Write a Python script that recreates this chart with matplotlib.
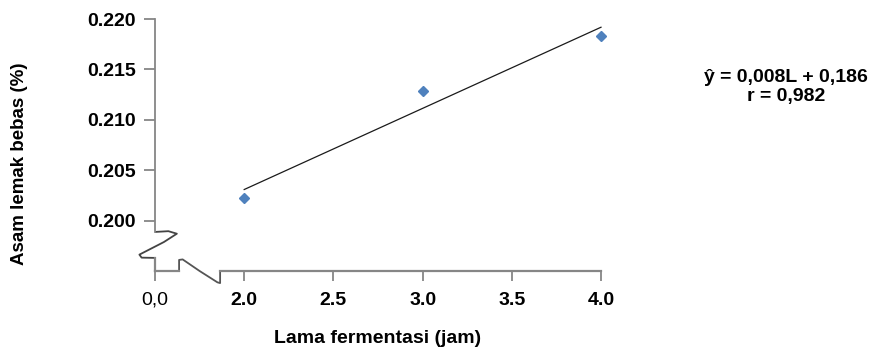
import matplotlib
matplotlib.use("Agg")
import matplotlib.pyplot as plt
import numpy as np

# data
lama = [2.0, 3.0, 4.0]
asam = [0.2022, 0.2129, 0.2183]
x_ticks = [1.5, 2.0, 2.5, 3.0, 3.5, 4.0]
x_ticklabels = ["0,0", "2.0", "2.5", "3.0", "3.5", "4.0"]
y_ticks = [0.200, 0.205, 0.210, 0.215, 0.220]
y_ticklabels = ["0.200", "0.205", "0.210", "0.215", "0.220"]
eq_text = "ŷ = 0,008L + 0,186\nr = 0,982"

FONT = ["Liberation Sans Narrow", "Liberation Sans", "DejaVu Sans"]
plt.rcParams['font.family'] = FONT
GREY = "#868686"

fig = plt.figure(figsize=(8.85, 3.51), dpi=100)
W, H = 885, 351
ax = fig.add_axes([155 / W, 1 - 271 / H, 446 / W, 252 / H])

ax.set_xlim(1.5, 4.0)
ax.set_ylim(0.195, 0.220)

# data points
ax.plot(lama, asam, linestyle="none", marker="D", markersize=5.5,
        color="#4F81BD", zorder=3, clip_on=False)

# linear trend line
coef = np.polyfit(lama, asam, 1)
xs = np.array([min(lama), max(lama)])
ax.plot(xs, np.polyval(coef, xs), color="#1a1a1a", linewidth=0.9, zorder=2,
        clip_on=False)

# spines
for s in ax.spines.values():
    s.set_visible(False)

# broken axes drawn manually (axes-fraction coordinates)
yax_break = [(0, 0.155), (0.03, 0.158), (0.049, 0.148), (0.02, 0.115),
             (-0.035, 0.065), (-0.03, 0.053), (0, 0.052)]
xax_break = [(0.054, 0), (0.054, 0.044), (0.062, 0.046),
             (0.10, 0.0), (0.14, -0.045), (0.146, -0.048), (0.146, 0)]
for pts, c in [(yax_break, "#444444"), (xax_break, "#555555")]:
    px, py = zip(*pts)
    ax.plot(px, py, transform=ax.transAxes, color=c, linewidth=1.3,
            clip_on=False, solid_capstyle="butt", zorder=1)
# straight axis parts
ax.plot([0.146, 1], [0, 0], transform=ax.transAxes, color=GREY, linewidth=1.6,
        clip_on=False, zorder=1)
ax.plot([0, 0.054], [0, 0], transform=ax.transAxes, color=GREY, linewidth=1.6,
        clip_on=False, zorder=1)
ax.plot([0, 0], [0, 0.052], transform=ax.transAxes, color=GREY, linewidth=1.6,
        clip_on=False, zorder=1)
ax.plot([0, 0], [0.155, 1], transform=ax.transAxes, color=GREY, linewidth=1.3,
        clip_on=False, zorder=1)

# ticks
ax.set_xticks(x_ticks)
ax.set_xticklabels(x_ticklabels)
ax.set_yticks(y_ticks)
ax.set_yticklabels(y_ticklabels)
ax.tick_params(axis="x", direction="out", length=7, width=1.3, color=GREY,
               pad=8, labelsize=14)
ax.tick_params(axis="y", direction="out", length=8, width=1.3, color=GREY,
               pad=6, labelsize=14)
for i, lab in enumerate(ax.get_xticklabels()):
    lab.set_fontweight("normal" if i == 0 else "bold")
for lab in ax.get_yticklabels():
    lab.set_fontweight("bold")

ax.set_xlabel("Lama fermentasi (jam)", fontsize=14, fontweight="bold", labelpad=15)
ax.set_ylabel("Asam lemak bebas (%)", fontsize=13.5, fontweight="bold")
ax.yaxis.set_label_coords(-0.285, 0.427)

fig.text(786 / W, 1 - 87 / H, eq_text, ha="center", va="center",
         fontsize=14, fontweight="bold", linespacing=1.2)

fig.savefig("out.png", dpi=100)
